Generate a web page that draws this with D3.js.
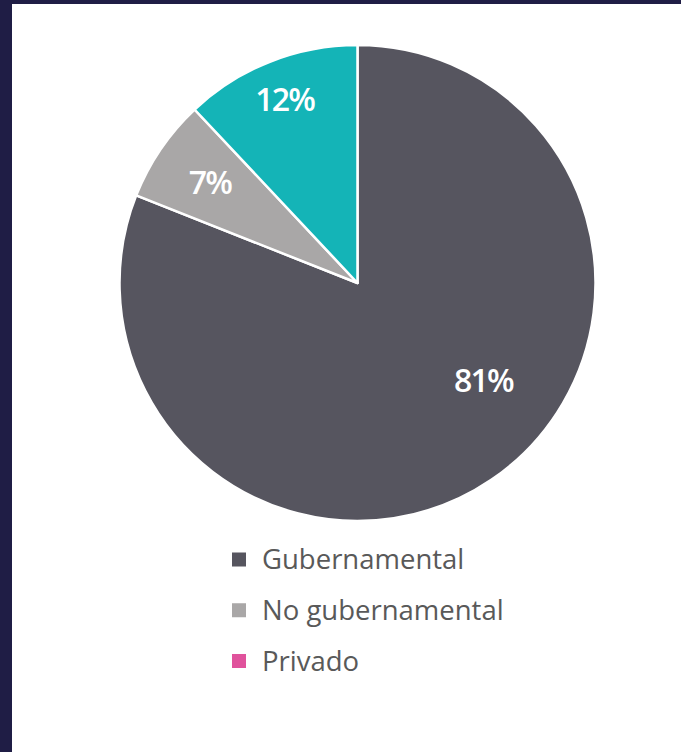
<!DOCTYPE html>
<html><head><meta charset="utf-8">
<script src="https://cdn.jsdelivr.net/npm/d3@7"></script>
<style>
html,body{margin:0;padding:0;background:#ffffff;}
svg{display:block;}
</style></head>
<body>
<script>
const categories = ["Gubernamental", "No gubernamental", "Privado"];
const values = [81, 7, 12];
const labels = ["81%", "7%", "12%"];
const sliceColors = ["#56555f", "#a9a7a7", "#14b4b7"];
const legendColors = ["#56555f", "#a9a7a7", "#e0529c"];

const W = 681, H = 752;
const svg = d3.select("body").append("svg").attr("width", W).attr("height", H);

// frame
svg.append("rect").attr("x", 0).attr("y", 0).attr("width", W).attr("height", H).attr("fill", "#ffffff");
svg.append("rect").attr("x", 0).attr("y", 0).attr("width", 12).attr("height", H).attr("fill", "#1f1d45");
svg.append("rect").attr("x", 0).attr("y", 0).attr("width", W).attr("height", 4).attr("fill", "#1f1d45");

const cx = 357.5, cy = 283, R = 238;
const pie = d3.pie().sort(null).value(d => d)(values);
const arc = d3.arc().innerRadius(0).outerRadius(R);
const g = svg.append("g").attr("transform", `translate(${cx},${cy})`);

g.selectAll("path").data(pie).enter().append("path")
  .attr("d", arc)
  .attr("fill", (d, i) => sliceColors[i])
  .attr("stroke", "#ffffff").attr("stroke-width", 2.5).attr("stroke-linejoin", "round");

// label placement: fraction of radius and angle offset (degrees) per slice
const labelRadius = [0.67, 0.75, 0.83];
const labelAngleShift = [-18, 0, 0];
g.selectAll("text.lbl").data(pie).enter().append("text")
  .attr("class", "lbl")
  .attr("transform", (d, i) => {
    const a = (d.startAngle + d.endAngle) / 2 + labelAngleShift[i] * Math.PI / 180;
    const r = R * labelRadius[i];
    return `translate(${r * Math.sin(a)},${-r * Math.cos(a)})`;
  })
  .attr("text-anchor", "middle").attr("dy", "0.36em")
  .attr("font-family", "'Open Sans', sans-serif").attr("font-weight", 600)
  .attr("font-size", 32).attr("letter-spacing", -1.8).attr("fill", "#ffffff")
  .text((d, i) => labels[i]);

// legend
const ly = d3.scalePoint().domain(categories).range([559.5, 661]);
const leg = svg.append("g");
const items = leg.selectAll("g").data(categories).enter().append("g")
  .attr("transform", d => `translate(232,${ly(d)})`);
items.append("rect").attr("x", 0).attr("y", -7).attr("width", 14).attr("height", 14)
  .attr("fill", (d, i) => legendColors[i]);
items.append("text").attr("x", 30).attr("y", 0).attr("dy", "0.35em")
  .attr("font-family", "'Open Sans', sans-serif").attr("font-size", 27.5)
  .attr("fill", "#595959").text(d => d);
</script>
</body></html>
